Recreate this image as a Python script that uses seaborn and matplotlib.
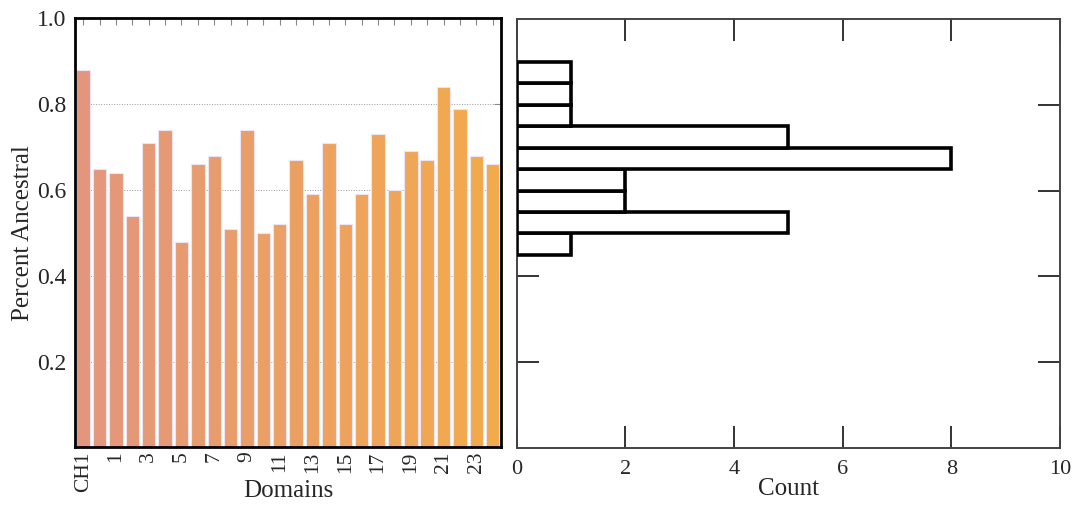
import numpy as np
import matplotlib
matplotlib.use("Agg")
import matplotlib.pyplot as plt
import matplotlib.colors as mcolors
import seaborn as sns

# domain labels: CH1 then domains 0..24
domains = ["CH1"] + [str(i) for i in range(25)]
percent_ancestral = [0.88, 0.65, 0.64, 0.54, 0.71, 0.74, 0.48, 0.66, 0.68, 0.51,
                     0.74, 0.50, 0.52, 0.67, 0.59, 0.71, 0.52, 0.59, 0.73, 0.60,
                     0.69, 0.67, 0.84, 0.79, 0.68, 0.66]
shown_labels = ["CH1", "1", "3", "5", "7", "9", "11", "13", "15", "17", "19", "21", "23"]
hist_bins = [0.45, 0.50, 0.55, 0.60, 0.65, 0.70, 0.75, 0.80, 0.85, 0.90]
count_ticks = [0, 2, 4, 6, 8, 10]
y_ticks = [0.2, 0.4, 0.6, 0.8, 1.0]

sns.set_style("white")
plt.rcParams["font.family"] = ["Liberation Serif", "DejaVu Serif"]

fig = plt.figure(figsize=(10.74, 5.05), dpi=100)
ax1 = fig.add_axes([0.0698, 0.1139, 0.3966, 0.8495])
ax2 = fig.add_axes([0.4811, 0.1129, 0.5058, 0.8495])

# salmon -> orange gradient across bars
cmap = mcolors.LinearSegmentedColormap.from_list("sa", ["#E3967D", "#F3AA4B"])
bar_colors = [mcolors.to_hex(cmap(i / (len(domains) - 1))) for i in range(len(domains))]

sns.barplot(x=domains, y=percent_ancestral, hue=domains, palette=bar_colors,
            legend=False, ax=ax1, width=0.82, edgecolor="#EDE3F2", linewidth=0.8,
            saturation=1, zorder=2)
ax1.set_xlim(-0.5, len(domains) - 0.5)
ax1.set_ylim(0, 1.0)
ax1.set_yticks(y_ticks)
ax1.set_yticklabels([f"{t:.1f}" for t in y_ticks], fontsize=17)
ax1.set_xticks(range(len(domains)))
lbls = []
for i, d in enumerate(domains):
    lbls.append(d if d in shown_labels and i % 2 == 0 else "")
ax1.set_xticklabels(lbls, rotation=90, fontsize=15.5)
ax1.tick_params(axis="both", direction="in", length=5, width=0.8, color="#888888",
                top=True, right=True, bottom=True, left=True)
ax1.tick_params(axis="x", pad=3)
ax1.tick_params(axis="y", pad=6)
ax1.grid(axis="y", linestyle=":", color="#999999", linewidth=0.7, zorder=0)
ax1.set_axisbelow(True)
for s in ax1.spines.values():
    s.set_color("black")
    s.set_linewidth(2)
ax1.set_xlabel("Domains", fontsize=18, labelpad=-9)
ax1.set_ylabel("Percent Ancestral", fontsize=18, labelpad=2)

sns.histplot(y=percent_ancestral, bins=hist_bins, ax=ax2, color="white",
             edgecolor="black", linewidth=2.6, alpha=1, zorder=3)
ax2.set_xlim(0, 10)
ax2.set_ylim(0, 1.0)
ax2.set_xticks(count_ticks)
ax2.set_xticklabels([str(c) for c in count_ticks], fontsize=16)
ax2.set_yticks([0.2, 0.4, 0.6, 0.8])
ax2.set_yticklabels([])
ax2.tick_params(axis="both", direction="in", length=16, width=1.4, color="#333333",
                top=True, right=True, bottom=True, left=True, pad=9)
for s in ax2.spines.values():
    s.set_color("#444444")
    s.set_linewidth(1.4)
ax2.set_ylabel("")
ax2.set_xlabel("Count", fontsize=18, labelpad=-1)

fig.savefig("out.png", dpi=100)
